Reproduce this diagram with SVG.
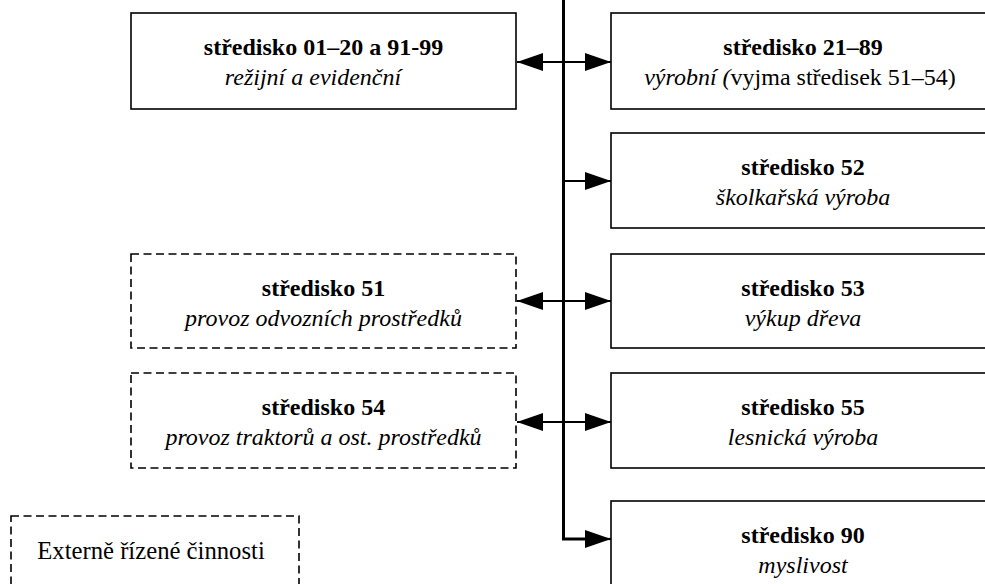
<svg xmlns="http://www.w3.org/2000/svg" width="985" height="584" viewBox="0 0 985 584">
<style>
.box{fill:#fff;stroke:#000;stroke-width:1.6}
.dash{fill:#fff;stroke:#000;stroke-width:1.6;stroke-dasharray:8 4.5}
.t{font-family:"Liberation Serif","Times New Roman",serif;font-size:24px;fill:#000;text-anchor:middle}
.b{font-weight:bold}
.i{font-style:italic}
.ln{fill:none;stroke:#000;stroke-width:2.2}
.trunk{fill:none;stroke:#000;stroke-width:3}
</style>
<defs>
<marker id="ah" viewBox="0 0 26 18" refX="26" refY="9" markerWidth="26" markerHeight="18" markerUnits="userSpaceOnUse" orient="auto-start-reverse">
<path d="M0,0 L26,9 L0,18 Z" fill="#000"/>
</marker>
</defs>
<g id="connectors">
<path class="trunk" d="M563.5,0 V539 H590"/>
<path class="ln" d="M590,539 H611" marker-end="url(#ah)"/>
<path class="ln" d="M517,62 H611" marker-start="url(#ah)" marker-end="url(#ah)"/>
<path class="ln" d="M563.5,181 H611" marker-end="url(#ah)"/>
<path class="ln" d="M517,301 H611" marker-start="url(#ah)" marker-end="url(#ah)"/>
<path class="ln" d="M517,422 H611" marker-start="url(#ah)" marker-end="url(#ah)"/>
</g>
<g id="s01">
<rect class="box" x="131" y="13" width="385" height="96"/>
<text x="323.5" y="55" class="t b">středisko 01–20 a 91-99</text>
<text x="313" y="85" class="t i">režijní a evidenční</text>
</g>
<g id="s21">
<rect class="box" x="611" y="13" width="385" height="96"/>
<text x="803" y="55" class="t b">středisko 21–89</text>
<text x="800" y="85" class="t"><tspan class="i">výrobní (</tspan>vyjma středisek 51–54)</text>
</g>
<g id="s52">
<rect class="box" x="611" y="133" width="385" height="95"/>
<text x="803" y="175" class="t b">středisko 52</text>
<text x="803" y="205" class="t i">školkařská výroba</text>
</g>
<g id="s51">
<rect class="dash" x="131" y="254" width="385" height="94"/>
<text x="323.5" y="296" class="t b">středisko 51</text>
<text x="323.5" y="326" class="t i">provoz odvozních prostředků</text>
</g>
<g id="s53">
<rect class="box" x="611" y="254" width="385" height="94"/>
<text x="803" y="296" class="t b">středisko 53</text>
<text x="803" y="326" class="t i">výkup dřeva</text>
</g>
<g id="s54">
<rect class="dash" x="131" y="373" width="385" height="95"/>
<text x="323.5" y="415" class="t b">středisko 54</text>
<text x="323.5" y="445" class="t i">provoz traktorů a ost. prostředků</text>
</g>
<g id="s55">
<rect class="box" x="611" y="373" width="385" height="95"/>
<text x="803" y="415" class="t b">středisko 55</text>
<text x="803" y="445" class="t i">lesnická výroba</text>
</g>
<g id="s90">
<rect class="box" x="611" y="501" width="385" height="96"/>
<text x="803" y="543" class="t b">středisko 90</text>
<text x="803" y="573" class="t i">myslivost</text>
</g>
<g id="legend">
<rect class="dash" x="11" y="516" width="288" height="90"/>
<text x="151" y="559" class="t" style="font-size:24.7px">Externě řízené činnosti</text>
</g>
</svg>
